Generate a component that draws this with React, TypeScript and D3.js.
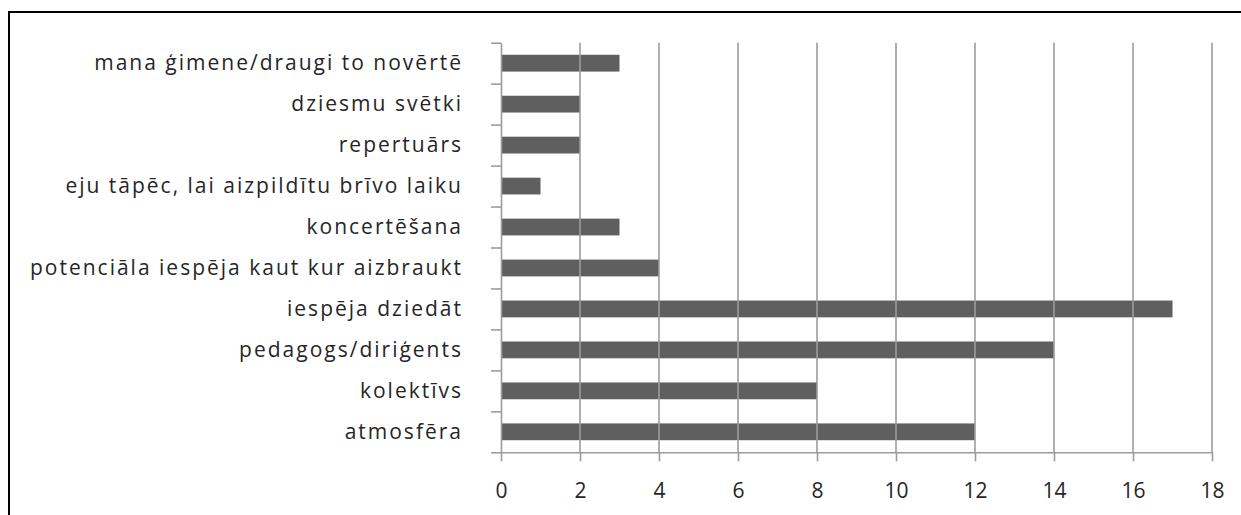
import React, { useEffect, useRef } from 'react'
import * as d3 from 'd3'

// categories top to bottom, as in the chart
const categories = [
  'mana ģimene/draugi to novērtē',
  'dziesmu svētki',
  'repertuārs',
  'eju tāpēc, lai aizpildītu brīvo laiku',
  'koncertēšana',
  'potenciāla iespēja kaut kur aizbraukt',
  'iespēja dziedāt',
  'pedagogs/diriģents',
  'kolektīvs',
  'atmosfēra',
]
const values = [3, 2, 2, 1, 3, 4, 17, 14, 8, 12]
const xTicks = [0, 2, 4, 6, 8, 10, 12, 14, 16, 18]

const W = 1241
const H = 515
const FONT = '"Open Sans", sans-serif'

function App() {
  const ref = useRef<SVGSVGElement>(null)

  useEffect(() => {
    const svg = d3.select(ref.current)
    svg.selectAll('*').remove()

    const left = 501
    const right = 1212
    const top = 42.7
    const bottom = 452.3

    const x = d3.scaleLinear().domain([0, 18]).range([left, right])
    const y = d3.scaleBand<string>()
      .domain(categories)
      .range([top, bottom])
      .paddingInner(0.59)
      .paddingOuter(0.295)

    // frame (only top and left edges show)
    svg.append('path')
      .attr('d', `M9,${H} L9,12 L${W},12`)
      .attr('fill', 'none')
      .attr('stroke', '#000')
      .attr('stroke-width', 2)

    // bars
    svg.append('g')
      .selectAll('rect')
      .data(values)
      .enter()
      .append('rect')
      .attr('x', x(0))
      .attr('y', (d, i) => y(categories[i]))
      .attr('width', d => x(d) - x(0))
      .attr('height', y.bandwidth())
      .attr('fill', '#5f5f5f')

    // gridlines drawn over the bars
    svg.append('g')
      .selectAll('line')
      .data(xTicks.filter(t => t > 0))
      .enter()
      .append('line')
      .attr('x1', d => x(d))
      .attr('x2', d => x(d))
      .attr('y1', top)
      .attr('y2', bottom)
      .attr('stroke', '#9c9c9c')
      .attr('stroke-width', 1.6)

    // x axis
    const xAxis = svg.append('g')
      .attr('transform', `translate(0, ${bottom})`)
      .call(d3.axisBottom(x).tickValues(xTicks).tickSize(9).tickPadding(22).tickSizeOuter(0))
    xAxis.select('.domain').attr('stroke', '#9c9c9c').attr('stroke-width', 1.6)
    xAxis.selectAll('.tick line').attr('stroke', '#9c9c9c').attr('stroke-width', 1.6)
    xAxis.selectAll('.tick text')
      .attr('fill', '#262626')
      .style('font-family', FONT)
      .style('font-size', '21px')

    // y axis boundary ticks
    const yb = d3.scaleLinear().domain([0, categories.length]).range([bottom, top])
    const yAxis = svg.append('g')
      .attr('transform', `translate(${left}, 0)`)
      .call(d3.axisLeft(yb).ticks(categories.length).tickSize(10).tickSizeOuter(0).tickFormat(() => ''))
    yAxis.select('.domain').attr('stroke', '#9c9c9c').attr('stroke-width', 1.6)
    yAxis.selectAll('.tick line').attr('stroke', '#9c9c9c').attr('stroke-width', 1.6)

    // category labels
    const yLabels = svg.append('g')
      .attr('transform', `translate(${left}, 0)`)
      .call(d3.axisLeft(y).tickSize(0).tickPadding(38))
    yLabels.select('.domain').remove()
    yLabels.selectAll('.tick text')
      .attr('fill', '#262626')
      .style('font-family', FONT)
      .style('font-size', '21px')
      .style('letter-spacing', '2px')
  }, [])

  return (
    <svg
      ref={ref}
      width={W}
      height={H}
      style={{ position: 'absolute', left: 0, top: 0, background: '#fff' }}
    />
  )
}

export default App
